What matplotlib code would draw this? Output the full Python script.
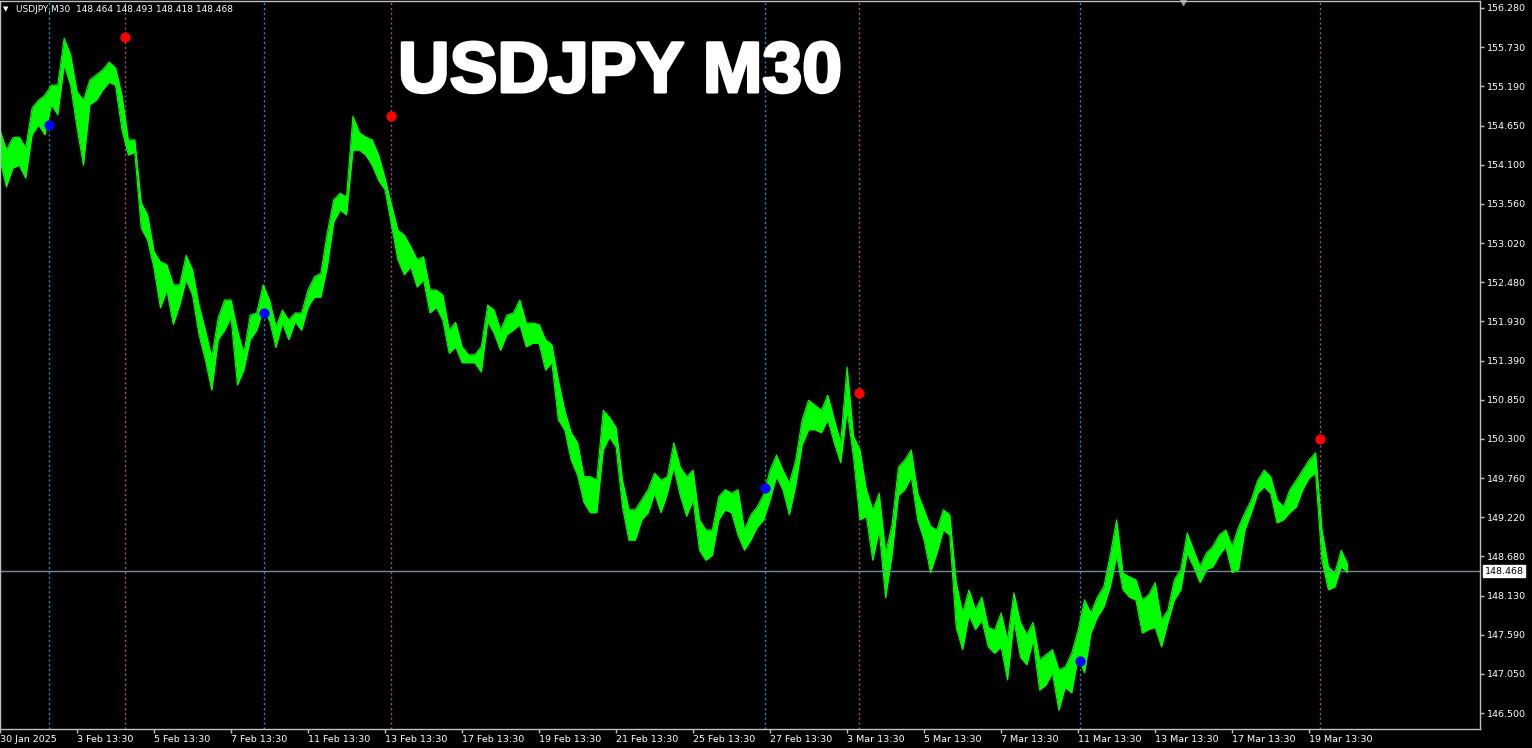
import numpy as np
import matplotlib
matplotlib.use("Agg")
import matplotlib.pyplot as plt
import matplotlib.patheffects as pe

# USDJPY M30 - price band sampled every 4 trading hours (high / low)
highs = [154.59, 154.31, 154.48, 154.49, 154.34, 154.89, 155.00, 155.07, 155.21, 155.21,
         155.86, 155.63, 155.12, 155.00, 155.28, 155.35, 155.42, 155.53, 155.45, 155.07,
         154.45, 154.45, 153.58, 153.41, 152.90, 152.76, 152.72, 152.44, 152.44, 152.85,
         152.65, 152.16, 151.81, 151.43, 151.98, 152.23, 152.23, 151.81, 151.49, 152.02,
         152.05, 152.44, 152.23, 151.86, 152.09, 151.95, 152.05, 152.05, 152.37, 152.55,
         152.60, 153.16, 153.62, 153.71, 153.66, 154.78, 154.55, 154.49, 154.45, 154.24,
         153.92, 153.55, 153.20, 153.13, 152.97, 152.79, 152.83, 152.37, 152.37, 152.30,
         151.81, 151.92, 151.58, 151.47, 151.47, 151.58, 152.16, 152.09, 151.81, 152.02,
         152.05, 152.23, 151.91, 151.91, 151.89, 151.68, 151.61, 151.12, 150.70, 150.39,
         150.25, 149.78, 149.78, 149.73, 150.70, 150.60, 150.46, 149.73, 149.32, 149.32,
         149.46, 149.60, 149.83, 149.73, 149.78, 150.25, 149.91, 149.78, 149.87, 149.18,
         149.04, 149.04, 149.50, 149.60, 149.55, 149.60, 149.04, 149.25, 149.36, 149.53,
         149.87, 150.08, 149.87, 149.69, 150.01, 150.57, 150.84, 150.77, 150.70, 150.91,
         150.57, 150.25, 151.30, 150.34, 150.15, 149.60, 149.32, 149.55, 148.72, 149.11,
         149.91, 150.01, 150.15, 149.55, 149.32, 149.09, 149.04, 149.32, 149.25, 148.31,
         147.89, 148.21, 147.93, 148.11, 147.69, 147.65, 147.89, 147.51, 148.17, 147.76,
         147.59, 147.76, 147.24, 147.31, 147.38, 147.10, 147.14, 147.33, 147.65, 148.07,
         147.89, 148.11, 148.25, 148.69, 149.18, 148.44, 148.39, 148.35, 148.07, 148.14,
         148.31, 147.79, 147.93, 148.35, 148.49, 149.00, 148.76, 148.53, 148.72, 148.81,
         148.97, 149.04, 148.81, 149.08, 149.28, 149.46, 149.73, 149.87, 149.78, 149.46,
         149.36, 149.60, 149.73, 149.87, 150.01, 150.11, 149.04, 148.53, 148.44, 148.76,
         148.56]
lows = [154.17, 153.80, 154.06, 154.10, 153.92, 154.52, 154.66, 154.52, 154.94, 154.80,
        155.49, 155.21, 154.62, 154.10, 154.94, 155.00, 155.14, 155.25, 155.21, 154.59,
        154.24, 154.28, 153.23, 153.06, 152.67, 152.12, 152.37, 151.89, 152.16, 152.51,
        152.30, 151.75, 151.40, 150.98, 151.68, 151.81, 151.99, 151.05, 151.26, 151.68,
        151.81, 152.09, 151.95, 151.57, 151.91, 151.68, 151.93, 151.81, 152.13, 152.27,
        152.27, 152.69, 153.31, 153.48, 153.41, 154.31, 154.31, 154.24, 154.10, 153.89,
        153.76, 153.27, 152.79, 152.58, 152.69, 152.41, 152.51, 152.05, 152.13, 151.95,
        151.49, 151.58, 151.36, 151.36, 151.36, 151.23, 151.93, 151.77, 151.53, 151.75,
        151.81, 151.89, 151.58, 151.63, 151.63, 151.26, 151.36, 150.57, 150.43, 150.01,
        149.80, 149.42, 149.28, 149.28, 150.15, 150.33, 150.19, 149.36, 148.90, 148.90,
        149.18, 149.28, 149.55, 149.28, 149.55, 149.91, 149.52, 149.23, 149.46, 148.76,
        148.62, 148.69, 149.18, 149.32, 149.28, 148.97, 148.76, 148.90, 149.08, 149.18,
        149.46, 149.78, 149.60, 149.25, 149.66, 150.22, 150.43, 150.43, 150.39, 150.57,
        150.25, 149.97, 150.70, 150.05, 149.18, 149.23, 148.62, 149.04, 148.10, 148.69,
        149.52, 149.60, 149.78, 149.18, 148.90, 148.45, 148.72, 149.04, 148.97, 147.69,
        147.38, 147.86, 147.66, 147.79, 147.42, 147.33, 147.42, 146.96, 147.79, 147.28,
        147.17, 147.51, 146.82, 146.89, 147.06, 146.54, 146.86, 146.78, 147.28, 147.06,
        147.61, 147.83, 147.97, 148.25, 148.68, 148.21, 148.11, 148.07, 147.61, 147.66,
        147.69, 147.42, 147.76, 148.07, 148.21, 148.72, 148.53, 148.31, 148.49, 148.53,
        148.69, 148.81, 148.45, 148.49, 149.04, 149.28, 149.55, 149.64, 149.55, 149.14,
        149.18, 149.28, 149.36, 149.60, 149.76, 149.83, 148.62, 148.21, 148.25, 148.53,
        148.45]
step_hours = 4
hours = np.arange(len(highs)) * step_hours

last_price = 148.468
info = "USDJPY,M30  148.464 148.493 148.418 148.468"

# indicator signals (hour position, price)
buy_x = [30.5, 164.5, 477, 673]
buy_y = [154.66, 152.05, 149.62, 147.22]
sell_x = [78, 244, 535.5, 822.5]
sell_y = [155.88, 154.78, 150.94, 150.30]

date_labels = ["30 Jan 2025", "3 Feb 13:30", "5 Feb 13:30", "7 Feb 13:30", "11 Feb 13:30",
               "13 Feb 13:30", "17 Feb 13:30", "19 Feb 13:30", "21 Feb 13:30", "25 Feb 13:30",
               "27 Feb 13:30", "3 Mar 13:30", "5 Mar 13:30", "7 Mar 13:30", "11 Mar 13:30",
               "13 Mar 13:30", "17 Mar 13:30", "19 Mar 13:30"]
price_labels = ["146.500", "147.050", "147.590", "148.130", "148.680", "149.220", "149.760",
                "150.300", "150.850", "151.390", "151.930", "152.480", "153.020", "153.560",
                "154.100", "154.650", "155.190", "155.730", "156.280"]

fig = plt.figure(figsize=(15.32, 7.48), dpi=100, facecolor="black")
ax = fig.add_axes([0, 19 / 748, 1480 / 1532, 728 / 748])
ax.set_facecolor("black")

ax.fill_between(hours, lows, highs, color="#00ff00", linewidth=0)
ax.plot(hours, highs, color="#00ff00", lw=0.8)
ax.plot(hours, lows, color="#00ff00", lw=0.8)

for x in buy_x:
    ax.axvline(x, color="#1f8ec8", lw=1, ls=(0, (1.5, 2)), zorder=0)
for x in sell_x:
    ax.axvline(x, color="#a0566a", lw=1, ls=(0, (1.5, 2)), zorder=0)
ax.scatter(buy_x, buy_y, s=55, color="#0000ff", zorder=5, linewidths=0)
ax.scatter(sell_x, sell_y, s=55, color="#ff0000", zorder=5, linewidths=0)

ax.axhline(last_price, color="#7a8a9a", lw=1, zorder=1)

ax.set_xlim(0, 922.5)
ax.set_ylim(146.28, 156.377)

ax.set_xticks(np.arange(len(date_labels)) * 48)
ax.set_xticklabels(date_labels, ha="left")
ax.set_yticks(np.linspace(146.5, 156.28, len(price_labels)))
ax.set_yticklabels(price_labels)
ax.yaxis.tick_right()
ax.tick_params(axis="both", colors="#c0c0c0", labelcolor="white", labelsize=6.8,
               length=3, width=1, pad=2)
ax.tick_params(axis="x", pad=1)
for s in ax.spines.values():
    s.set_color("#c0c0c0")
    s.set_linewidth(1)

ax.text(1.003, last_price, f"{last_price:.3f}", transform=ax.get_yaxis_transform(),
        ha="left", va="center", fontsize=6.8, color="black", clip_on=False,
        bbox=dict(boxstyle="square,pad=0.15", facecolor="white", edgecolor="white"))

# chart shift marker
ax.plot([0.799], [1.0], marker="v", color="#9a9a9a", markersize=6,
        transform=ax.transAxes, clip_on=False)

fig.text(3 / 1532, 1 - 9 / 748, "\u25bc", fontsize=5, color="white", va="center")
fig.text(16 / 1532, 1 - 9 / 748, info, fontsize=6.5, color="white", va="center")
fig.text(398 / 1532, 1 - 92 / 748, "USDJPY M30", fontsize=51.5, color="white",
         fontweight="bold", family="Liberation Sans", va="baseline",
         path_effects=[pe.withStroke(linewidth=2.2, foreground="white")])

fig.savefig("out.png", dpi=100, facecolor="black")
